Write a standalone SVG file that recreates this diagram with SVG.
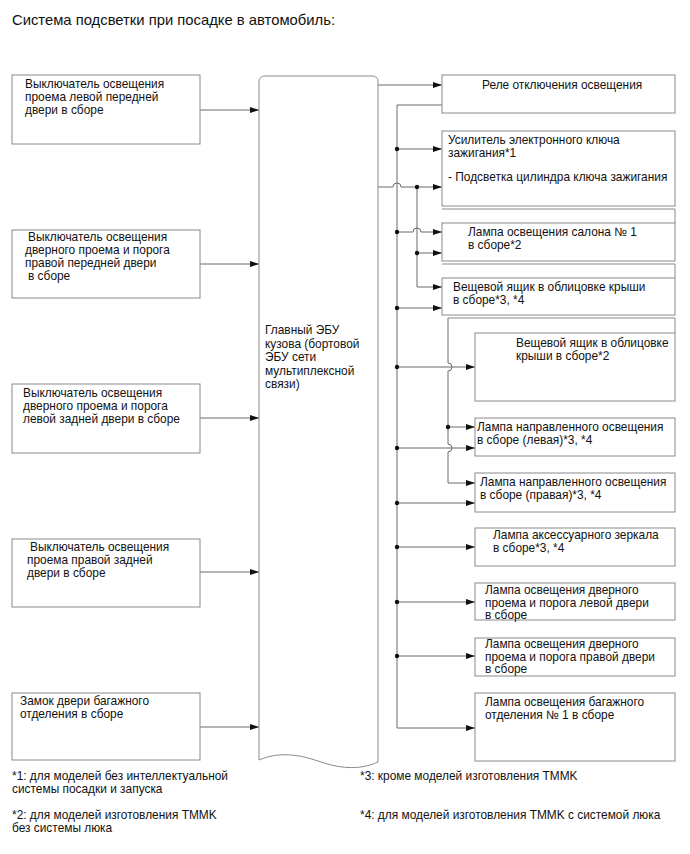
<svg xmlns="http://www.w3.org/2000/svg" width="690" height="854" viewBox="0 0 690 854">
<style>
text{font-family:"Liberation Sans",Arial,sans-serif;font-size:11.9px;fill:#111}
.title{font-size:14.8px}
.box{fill:#fff;stroke:#8a8a8a;stroke-width:1}
.frame{fill:none;stroke:#8a8a8a;stroke-width:1}
.w{fill:none;stroke:#6a6a6a;stroke-width:1}
.a{marker-end:url(#arr)}
.dot{fill:#111}
</style>
<defs>
<marker id="arr" markerWidth="9" markerHeight="7" refX="9" refY="3.5" orient="auto" markerUnits="userSpaceOnUse">
<path d="M0,0.5 L9,3.5 L0,6.5 Z" fill="#111"/>
</marker>
</defs>
<rect width="690" height="854" fill="#fff"/>
<text class="title" x="12" y="25">Система подсветки при посадке в автомобиль:</text>

<g id="connectors">
<path class="w a" d="M200,110 H259"/>
<path class="w a" d="M200,264 H259"/>
<path class="w a" d="M200,418 H259"/>
<path class="w a" d="M200,572 H259"/>
<path class="w a" d="M200,727 H259"/>

<path class="w a" d="M378,85 H442"/>
<path class="w a" d="M442,105 H397 V728 H475"/>
<path class="w a" d="M397,149 H442"/>
<path class="w a" d="M378,187 H393 A4,4 0 0 1 401,187 H442"/>
<path class="w a" d="M417,187 V287 H442"/>
<path class="w a" d="M397,232 H413 A4,4 0 0 1 421,232 H442"/>
<path class="w a" d="M417,253 H442"/>
<path class="w a" d="M397,308 H442"/>
<path class="w a" d="M448,318 V363 A4,4 0 0 1 448,371 V444 A4,4 0 0 1 448,452 V483 H475"/>
<path class="w a" d="M397,367 H475"/>
<path class="w a" d="M448,427 H475"/>
<path class="w a" d="M397,448 H475"/>
<path class="w a" d="M397,503 H475"/>
<path class="w a" d="M397,547 H475"/>
<path class="w a" d="M397,602 H475"/>
<path class="w a" d="M397,656 H475"/>

<circle class="dot" cx="397" cy="149" r="2.2"/>
<circle class="dot" cx="417" cy="187" r="2.2"/>
<circle class="dot" cx="397" cy="232" r="2.2"/>
<circle class="dot" cx="417" cy="253" r="2.2"/>
<circle class="dot" cx="397" cy="308" r="2.2"/>
<circle class="dot" cx="397" cy="367" r="2.2"/>
<circle class="dot" cx="448" cy="427" r="2.2"/>
<circle class="dot" cx="397" cy="448" r="2.2"/>
<circle class="dot" cx="397" cy="503" r="2.2"/>
<circle class="dot" cx="397" cy="547" r="2.2"/>
<circle class="dot" cx="397" cy="602" r="2.2"/>
<circle class="dot" cx="397" cy="656" r="2.2"/>

<path class="frame" d="M442,209 H675 V223"/>
<path class="frame" d="M442,264 H675 V278"/>
<path class="frame" d="M448,318 H675 V333"/>
</g>

<g id="ecu">
<path class="box" d="M259,760 V82 Q259,76 265,76 H372 Q378,76 378,82 V762 C358,771 338,768 318,761 C300,755 280,751 259,760 Z"/>
<text x="265" y="334">Главный ЭБУ</text>
<text x="265" y="348">кузова (бортовой</text>
<text x="265" y="361">ЭБУ сети</text>
<text x="265" y="375">мультиплексной</text>
<text x="265" y="388">связи)</text>
</g>

<g id="l1"><rect class="box" x="12" y="75" width="188" height="69"/>
<text x="25" y="88">Выключатель освещения</text><text x="25" y="101">проема левой передней</text><text x="25" y="114">двери в сборе</text></g>
<g id="l2"><rect class="box" x="12" y="230" width="188" height="68"/>
<text x="28" y="241">Выключатель освещения</text><text x="25" y="254">дверного проема и порога</text><text x="25" y="267">правой передней двери</text><text x="28" y="280">в сборе</text></g>
<g id="l3"><rect class="box" x="12" y="384" width="188" height="69"/>
<text x="23" y="397">Выключатель освещения</text><text x="23" y="410">дверного проема и порога</text><text x="23" y="423">левой задней двери в сборе</text></g>
<g id="l4"><rect class="box" x="12" y="539" width="188" height="68"/>
<text x="30" y="551">Выключатель освещения</text><text x="27" y="564">проема правой задней</text><text x="27" y="577">двери в сборе</text></g>
<g id="l5"><rect class="box" x="12" y="693" width="188" height="67"/>
<text x="20" y="705">Замок двери багажного</text><text x="20" y="718">отделения в сборе</text></g>

<g id="r1"><rect class="box" x="442" y="75" width="233" height="38"/>
<text x="482" y="89">Реле отключения освещения</text></g>
<g id="r2"><rect class="box" x="442" y="131" width="233" height="75"/>
<text x="448" y="144">Усилитель электронного ключа</text><text x="448" y="157">зажигания*1</text><text x="448" y="181">- Подсветка цилиндра ключа зажигания</text></g>
<g id="r3"><rect class="box" x="442" y="223" width="233" height="38"/>
<text x="468" y="236">Лампа освещения салона № 1</text><text x="468" y="249">в сборе*2</text></g>
<g id="r4"><rect class="box" x="442" y="278" width="233" height="37"/>
<text x="453" y="291">Вещевой ящик в облицовке крыши</text><text x="453" y="304">в сборе*3, *4</text></g>
<g id="r5"><rect class="box" x="475" y="333" width="200" height="68"/>
<text x="516" y="347">Вещевой ящик в облицовке</text><text x="516" y="360">крыши в сборе*2</text></g>
<g id="r6"><rect class="box" x="475" y="418" width="200" height="38"/>
<text x="477" y="431">Лампа направленного освещения</text><text x="477" y="444">в сборе (левая)*3, *4</text></g>
<g id="r7"><rect class="box" x="475" y="473" width="200" height="39"/>
<text x="480" y="486">Лампа направленного освещения</text><text x="480" y="499">в сборе (правая)*3, *4</text></g>
<g id="r8"><rect class="box" x="475" y="528" width="200" height="38"/>
<text x="493" y="539">Лампа аксессуарного зеркала</text><text x="493" y="552">в сборе*3, *4</text></g>
<g id="r9"><rect class="box" x="475" y="583" width="200" height="37"/>
<text x="485" y="594">Лампа освещения дверного</text><text x="485" y="606.5">проема и порога левой двери</text><text x="485" y="619">в сборе</text></g>
<g id="r10"><rect class="box" x="475" y="638" width="200" height="38"/>
<text x="485" y="648">Лампа освещения дверного</text><text x="485" y="660.5">проема и порога правой двери</text><text x="485" y="673">в сборе</text></g>
<g id="r11"><rect class="box" x="475" y="693" width="200" height="68"/>
<text x="485" y="706">Лампа освещения багажного</text><text x="485" y="719">отделения № 1 в сборе</text></g>

<g id="notes">
<text x="12" y="780">*1: для моделей без интеллектуальной</text>
<text x="12" y="793">системы посадки и запуска</text>
<text x="12" y="819">*2: для моделей изготовления TMMK</text>
<text x="12" y="832">без системы люка</text>
<text x="360" y="780">*3: кроме моделей изготовления TMMK</text>
<text x="360" y="819">*4: для моделей изготовления TMMK с системой люка</text>
</g>
</svg>
